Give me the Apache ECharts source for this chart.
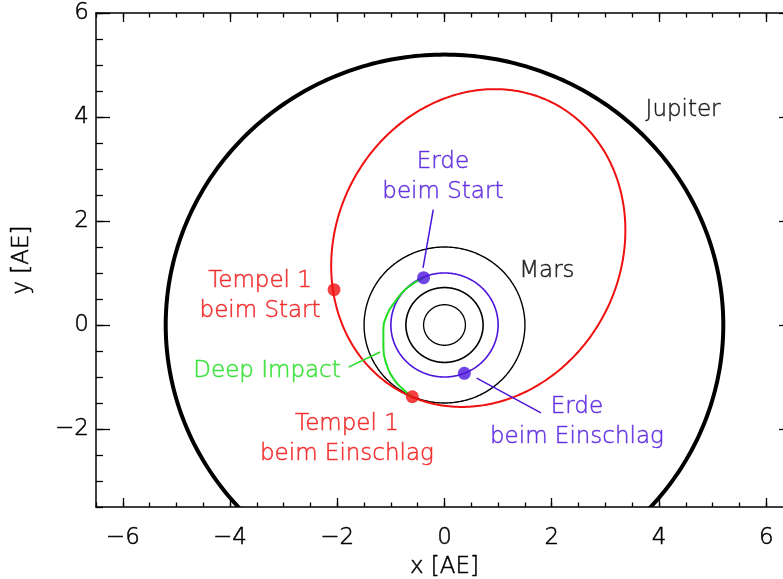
<!DOCTYPE html>
<html>
<head>
<meta charset="utf-8">
<script src="https://cdn.jsdelivr.net/npm/echarts@6/dist/echarts.min.js"></script>
<style>html,body{margin:0;padding:0;background:#fff;overflow:hidden}#c{width:783px;height:579px}</style>
</head>
<body>
<div id="c"></div>
<script>
// ---- data (units: AE) ----
var xMajorTicks = [-6, -4, -2, 0, 2, 4, 6];
var xMinorTicks = [-6.5,-6,-5.5,-5,-4.5,-4,-3.5,-3,-2.5,-2,-1.5,-1,-0.5,0,0.5,1,1.5,2,2.5,3,3.5,4,4.5,5,5.5,6,6.5];
var yMajorTicks = [-2, 0, 2, 4, 6];
var yMinorTicks = [-3.5,-3,-2.5,-2,-1.5,-1,-0.5,0,0.5,1,1.5,2,2.5,3,3.5,4,4.5,5,5.5,6];

var orbitNames  = ['Merkur', 'Venus', 'Erde', 'Mars', 'Jupiter'];
var orbitRadii  = [0.39, 0.72, 1.00, 1.50, 5.20];

// Tempel 1 orbit: centre x, centre y, semi-major a, semi-minor b, orientation (deg)
var tempelEllipse = [0.63, 1.48, 3.12, 2.67, 67];

// Deep Impact trajectory
var deepImpactPath = [[-0.39, 0.90], [-0.70, 0.71], [-0.92, 0.45], [-1.07, 0.20], [-1.14, -0.12], [-1.14, -0.44], [-1.08, -0.76], [-0.94, -1.05], [-0.77, -1.24], [-0.61, -1.37]];

var earthPoints  = [[-0.39, 0.91], [0.37, -0.93]];
var tempelPoints = [[-2.06, 0.68], [-0.60, -1.38]];

var labelTexts = ['Jupiter', 'Mars', 'Erde\nbeim Start', 'Tempel 1\nbeim Start', 'Deep Impact', 'Tempel 1\nbeim Einschlag', 'Erde\nbeim Einschlag'];
var labelPos   = [[4.45, 4.14], [1.91, 1.04], [-0.03, 2.84], [-3.44, 0.55], [-3.31, -0.88], [-1.82, -2.20], [2.47, -1.87]];

var leaderEarthStart  = [[-0.21, 2.22], [-0.40, 1.10]];
var leaderEarthImpact = [[0.60, -1.02], [1.80, -1.69]];
var leaderDeepImpact  = [[-1.79, -0.81], [-1.20, -0.52]];

// ---- styles ----
var RED = '#f01010', BLUE = '#4c14dc', GREEN = '#22dd22', BLACK = '#000';
var FONT = 'DejaVu Sans';
var FS = 23;
var TB = 0.5;
var orbitColors = [BLACK, BLACK, BLUE, BLACK, BLACK];
var orbitWidths = [1.3, 1.6, 1.6, 1.4, 4];
var labelColors = [BLACK, BLACK, BLUE, RED, GREEN, RED, BLUE];

function fmt(v) { return String(v).replace('-', '\u2212'); }

var axisLineStyle = { color: '#000', width: 1.5 };
function textStyle(color) {
  return { color: color, fontFamily: FONT, fontSize: FS, fontWeight: 200, textBorderColor: color, textBorderWidth: TB };
}
function xAx(pos, ticks, len, showLabel, showLine) {
  return {
    type: 'value', min: -6.5, max: 6.5, position: pos,
    axisLine: { show: showLine, onZero: false, lineStyle: axisLineStyle },
    axisTick: { show: true, inside: true, length: len, customValues: ticks, lineStyle: { color: '#000', width: 1.3 } },
    axisLabel: Object.assign({ show: showLabel, customValues: ticks, formatter: fmt, margin: 20 }, textStyle('#000')),
    splitLine: { show: false },
    name: showLabel ? 'x [AE]' : '', nameLocation: 'middle', nameGap: 49,
    nameTextStyle: textStyle('#000')
  };
}
function yAx(pos, ticks, len, showLabel, showLine) {
  return {
    type: 'value', min: -3.5, max: 6, position: pos,
    axisLine: { show: showLine, onZero: false, lineStyle: axisLineStyle },
    axisTick: { show: true, inside: true, length: len, customValues: ticks, lineStyle: { color: '#000', width: 1.3 } },
    axisLabel: Object.assign({ show: showLabel, customValues: ticks, formatter: fmt, margin: 7, padding: [7, 0, 0, 0] }, textStyle('#000')),
    splitLine: { show: false },
    name: showLabel ? 'y [AE]' : '', nameLocation: 'middle', nameGap: 62, nameRotate: 90,
    nameTextStyle: textStyle('#000')
  };
}

var series = [];

// planetary orbits (circles around the Sun)
series.push({
  type: 'custom', clip: true, silent: true, z: 2,
  data: orbitRadii.map(function (r, i) { return { name: orbitNames[i], value: [0, 0, r, i] }; }),
  encode: { x: 0, y: 1 },
  renderItem: function (params, api) {
    var cx = api.value(0), cy = api.value(1), r = api.value(2), i = api.value(3);
    var pts = [];
    for (var k = 0; k <= 360; k += 1) {
      var t = k * Math.PI / 180;
      pts.push(api.coord([cx + r * Math.cos(t), cy + r * Math.sin(t)]));
    }
    return { type: 'polyline', shape: { points: pts }, style: { stroke: orbitColors[i], lineWidth: orbitWidths[i], fill: null } };
  }
});

// Tempel 1 orbit (ellipse)
series.push({
  type: 'custom', clip: true, silent: true, z: 3,
  data: [tempelEllipse],
  encode: { x: 0, y: 1 },
  renderItem: function (params, api) {
    var cx = api.value(0), cy = api.value(1), a = api.value(2), b = api.value(3), th = api.value(4) * Math.PI / 180;
    var pts = [];
    for (var k = 0; k <= 360; k += 1) {
      var t = k * Math.PI / 180;
      var u = a * Math.cos(t), v = b * Math.sin(t);
      pts.push(api.coord([cx + u * Math.cos(th) - v * Math.sin(th), cy + u * Math.sin(th) + v * Math.cos(th)]));
    }
    return { type: 'polyline', shape: { points: pts }, style: { stroke: RED, lineWidth: 2, fill: null } };
  }
});

// Deep Impact trajectory
series.push({
  type: 'line', data: deepImpactPath, smooth: true, showSymbol: false, z: 4,
  lineStyle: { color: GREEN, width: 2 }
});

// leader lines
[[leaderEarthStart, BLUE], [leaderEarthImpact, BLUE], [leaderDeepImpact, GREEN]].forEach(function (l) {
  series.push({ type: 'line', data: l[0], showSymbol: false, z: 4, lineStyle: { color: l[1], width: 1.5 } });
});

// position dots
series.push({ type: 'scatter', data: earthPoints, symbolSize: 13, itemStyle: { color: BLUE }, z: 6 });
series.push({ type: 'scatter', data: tempelPoints, symbolSize: 13, itemStyle: { color: RED }, z: 6 });

// text labels
series.push({
  type: 'scatter', symbolSize: 1, itemStyle: { color: 'rgba(0,0,0,0)' }, z: 7, silent: true,
  data: labelPos.map(function (p, i) {
    return { value: p, name: labelTexts[i], label: { color: labelColors[i], textBorderColor: labelColors[i] } };
  }),
  label: { show: true, position: 'inside', formatter: '{b}', fontFamily: FONT, fontSize: FS, fontWeight: 200, textBorderWidth: TB, lineHeight: 30, align: 'center', verticalAlign: 'middle' }
});

var chart = echarts.init(document.getElementById('c'), null, { renderer: 'canvas' });
chart.setOption({
  animation: false,
  backgroundColor: '#fff',
  grid: { left: 96, right: -10, top: 13, bottom: 72, containLabel: false, outerBoundsMode: 'none' },
  xAxis: [xAx('bottom', xMajorTicks, 9, true, true), xAx('bottom', xMinorTicks, 4.5, false, false),
          xAx('top', xMajorTicks, 9, false, true), xAx('top', xMinorTicks, 4.5, false, false)],
  yAxis: [yAx('left', yMajorTicks, 14, true, true), yAx('left', yMinorTicks, 7, false, false),
          yAx('right', yMajorTicks, 14, false, true), yAx('right', yMinorTicks, 7, false, false)],
  series: series
});
</script>
</body>
</html>
